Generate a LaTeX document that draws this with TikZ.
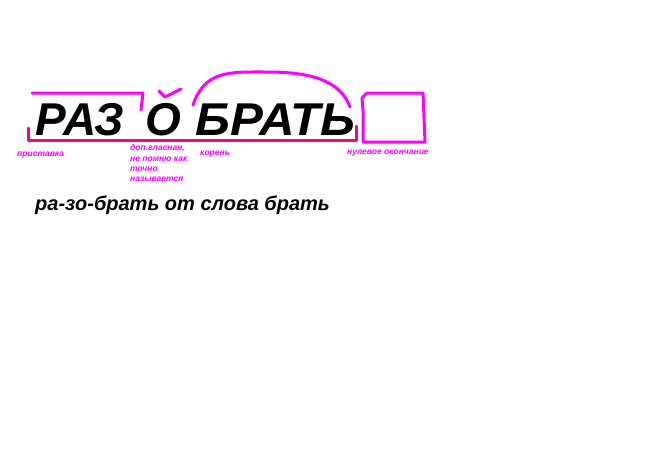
\documentclass[tikz,border=0pt]{standalone}
\usepackage{fontspec}
\setmainfont{Liberation Sans}
\usetikzlibrary{backgrounds}
\definecolor{mag}{RGB}{255,0,255}
\definecolor{deeppink}{RGB}{255,0,128}
\tikzstyle{every picture}=[x=1pt, y=-1pt]
\tikzstyle{bigword}=[anchor=base west, inner sep=0pt, font=\fontsize{46}{46}\selectfont\bfseries\itshape]
\tikzstyle{tinylabel}=[anchor=base west, inner sep=0pt, text=mag, align=left, font=\fontsize{8.5}{10.3}\selectfont\bfseries\itshape]
\tikzstyle{morph}=[draw=mag, line width=3pt, line cap=round, line join=round]
\tikzstyle{baseline}=[draw=deeppink, line width=3pt, line cap=round, line join=round]

\begin{document}
\begin{tikzpicture}
	\useasboundingbox[fill=white] (0,0) rectangle (659,451);

	% word parts
	\path (35,135) node[bigword] (w_raz) {РАЗ}
	      (145,135) node[bigword] (w_o) {О}
	      (195,135) node[bigword, xscale=1.07, transform shape] (w_brat) {БРАТЬ};

	% labels
	\path (17,156) node[tinylabel] (l_prist) {приставка}
	      (130,144.5) node[tinylabel, anchor=north west] (l_dop) {доп.гласная,\\не помню как\\точно\\называется}
	      (200,155) node[tinylabel] (l_koren) {корень}
	      (347,154) node[tinylabel] (l_okonch) {нулевое окончание};

	\path (35,210) node[anchor=base west, inner sep=0pt, font=\fontsize{20}{20}\selectfont\bfseries\itshape] (s_line) {ра-зо-брать от слова брать};

	% prefix
	\draw[morph] (32,93) -- (143,93) -- (141,110);
	% breve
	\draw[morph] (159,91) -- (165,97) -- (181,89);
	% root
	\draw[morph] (193,105) .. controls (205,70) and (230,72) .. (267,72)
	             .. controls (310,72) and (340,80) .. (350,107);
	% ending
	\draw[morph] (367,93) -- (423,93) -- (425,142) -- (363,142) -- (363,110) -- (362,98) -- cycle;
	% base
	\draw[baseline] (28,128) -- (28,140) -- (356,140) -- (356,126);

\end{tikzpicture}
\end{document}
